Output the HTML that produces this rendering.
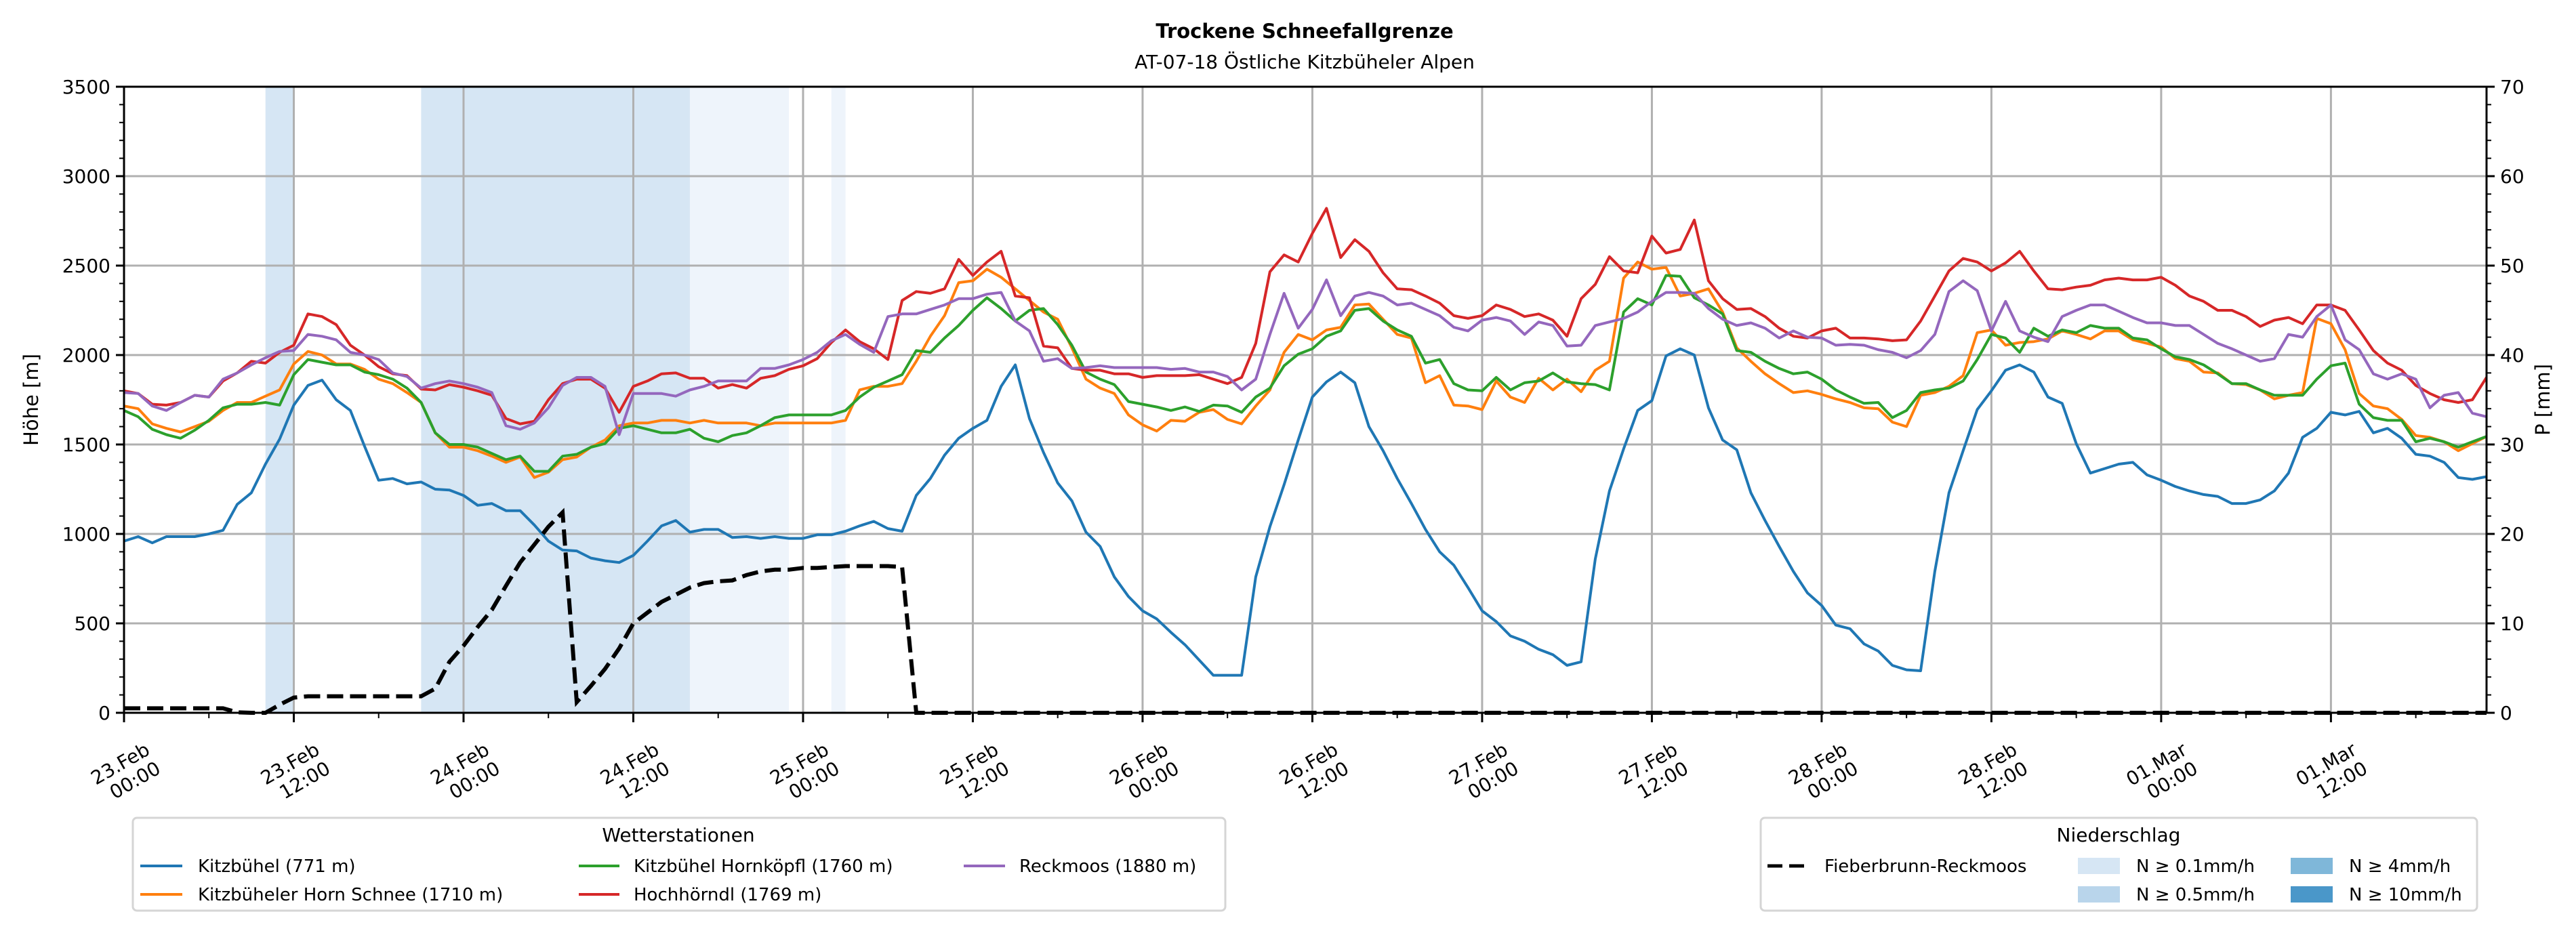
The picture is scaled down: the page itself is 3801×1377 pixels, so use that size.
<!DOCTYPE html>
<html><head><meta charset="utf-8"><style>
html,body{margin:0;padding:0;background:#fff;}
svg{display:block;font-family:"DejaVu Sans","Liberation Sans",sans-serif;}
</style></head><body>
<svg id="chart" width="3801" height="1377" viewBox="0 0 3801 1377" xmlns="http://www.w3.org/2000/svg">
<defs><clipPath id="plotclip"><rect x="183" y="120" width="3486" height="940"/></clipPath></defs>
<rect x="0" y="0" width="3801" height="1377" fill="#fff"/>
<text x="1925" y="56" text-anchor="middle" font-size="29" font-weight="bold">Trockene Schneefallgrenze</text>
<text x="1925" y="101" text-anchor="middle" font-size="28">AT-07-18 Östliche Kitzbüheler Alpen</text>
<g id="shade"></g>
<g id="grid"></g>
<g id="series" clip-path="url(#plotclip)"></g>
<g id="axes"></g>
<text transform="translate(56,590) rotate(-90)" text-anchor="middle" font-size="29">Höhe [m]</text>
<text transform="translate(3762,590) rotate(-90)" text-anchor="middle" font-size="29">P [mm]</text>
<g>
<rect x="196" y="1207" width="1612" height="137" rx="6" fill="#fff" stroke="#d5d5d5" stroke-width="3"/>
<text x="1001" y="1242" text-anchor="middle" font-size="28">Wetterstationen</text>
<line x1="207" y1="1278" x2="269" y2="1278" stroke="#1f77b4" stroke-width="4"/>
<text x="292" y="1287" font-size="26">Kitzbühel (771 m)</text>
<line x1="207" y1="1320" x2="269" y2="1320" stroke="#ff7f0e" stroke-width="4"/>
<text x="292" y="1329" font-size="26">Kitzbüheler Horn Schnee (1710 m)</text>
<line x1="854" y1="1278" x2="914" y2="1278" stroke="#2ca02c" stroke-width="4"/>
<text x="935" y="1287" font-size="26">Kitzbühel Hornköpfl (1760 m)</text>
<line x1="854" y1="1320" x2="914" y2="1320" stroke="#d62728" stroke-width="4"/>
<text x="935" y="1329" font-size="26">Hochhörndl (1769 m)</text>
<line x1="1422" y1="1278" x2="1483" y2="1278" stroke="#9467bd" stroke-width="4"/>
<text x="1504" y="1287" font-size="26">Reckmoos (1880 m)</text>
</g>
<g>
<rect x="2598" y="1207" width="1057" height="137" rx="6" fill="#fff" stroke="#d5d5d5" stroke-width="3"/>
<text x="3126" y="1242" text-anchor="middle" font-size="28">Niederschlag</text>
<line x1="2608" y1="1278" x2="2666" y2="1278" stroke="#000" stroke-width="5" stroke-dasharray="22,10"/>
<text x="2692" y="1287" font-size="26">Fieberbrunn-Reckmoos</text>
<rect x="3066" y="1266" width="62" height="24" fill="#d6e6f4"/>
<text x="3152" y="1287" font-size="26">N ≥ 0.1mm/h</text>
<rect x="3066" y="1308" width="62" height="24" fill="#b9d5eb"/>
<text x="3152" y="1329" font-size="26">N ≥ 0.5mm/h</text>
<rect x="3380" y="1266" width="62" height="24" fill="#7fb7d9"/>
<text x="3466" y="1287" font-size="26">N ≥ 4mm/h</text>
<rect x="3380" y="1308" width="62" height="24" fill="#4a97c9"/>
<text x="3466" y="1329" font-size="26">N ≥ 10mm/h</text>
</g>
</svg>
<script>
const yTicks=[0,500,1000,1500,2000,2500,3000,3500];
const y2Ticks=[0,10,20,30,40,50,60,70];
const xTickHours=[0,12,24,36,48,60,72,84,96,108,120,132,144,156];
const xTickLabels=[["23.Feb","00:00"],["23.Feb","12:00"],["24.Feb","00:00"],["24.Feb","12:00"],["25.Feb","00:00"],["25.Feb","12:00"],["26.Feb","00:00"],["26.Feb","12:00"],["27.Feb","00:00"],["27.Feb","12:00"],["28.Feb","00:00"],["28.Feb","12:00"],["01.Mar","00:00"],["01.Mar","12:00"]];
const shadeStart=[10,21,40,50];
const shadeEnd=[12,40,47,51];
const shadeLevel=[1,1,0,0];
const kitzbuehel=[960,985,950,985,985,985,1000,1020,1165,1230,1390,1530,1720,1830,1860,1750,1690,1490,1300,1310,1280,1290,1250,1245,1215,1160,1170,1130,1130,1050,960,910,905,865,850,840,880,960,1045,1075,1010,1025,1025,980,985,975,985,975,975,995,995,1015,1045,1070,1030,1015,1215,1310,1440,1535,1590,1635,1825,1945,1645,1455,1285,1185,1010,930,760,650,570,525,450,380,295,210,210,210,760,1040,1275,1525,1765,1850,1905,1845,1600,1465,1310,1170,1025,900,825,700,570,510,430,400,355,325,265,285,860,1240,1475,1690,1745,1995,2035,2000,1705,1525,1470,1230,1075,930,790,670,600,490,470,385,345,265,240,235,790,1230,1465,1695,1800,1915,1945,1905,1765,1730,1505,1340,1365,1390,1400,1330,1300,1265,1240,1220,1210,1170,1170,1190,1240,1340,1540,1590,1680,1665,1685,1565,1590,1535,1445,1435,1400,1315,1305,1320];
const hornSchnee=[1715,1700,1615,1590,1570,1600,1630,1690,1735,1735,1770,1805,1950,2020,2000,1950,1950,1920,1865,1840,1790,1735,1565,1485,1485,1465,1435,1400,1430,1315,1345,1415,1430,1485,1525,1605,1620,1620,1635,1635,1620,1635,1620,1620,1620,1605,1620,1620,1620,1620,1620,1635,1805,1825,1825,1840,1965,2105,2220,2405,2415,2480,2435,2370,2305,2240,2200,2040,1865,1815,1785,1665,1610,1575,1635,1630,1680,1695,1640,1615,1715,1805,2015,2115,2085,2140,2155,2280,2285,2200,2115,2095,1845,1885,1720,1715,1695,1855,1765,1735,1870,1805,1865,1795,1915,1965,2430,2520,2480,2490,2330,2345,2370,2240,2040,1965,1895,1840,1790,1800,1780,1755,1735,1705,1700,1625,1600,1775,1790,1825,1885,2125,2140,2055,2070,2075,2090,2135,2115,2090,2135,2135,2085,2065,2045,1980,1965,1905,1900,1840,1835,1805,1755,1775,1790,2205,2175,2030,1785,1715,1700,1640,1550,1540,1515,1465,1505,1545];
const hornkoepfl=[1690,1655,1585,1555,1535,1580,1635,1705,1725,1725,1735,1720,1890,1975,1960,1945,1945,1905,1890,1865,1815,1735,1565,1500,1500,1485,1450,1415,1435,1350,1350,1435,1445,1485,1505,1590,1605,1585,1565,1565,1585,1535,1515,1550,1565,1605,1650,1665,1665,1665,1665,1690,1765,1820,1855,1890,2025,2015,2095,2165,2250,2320,2260,2190,2250,2260,2170,2055,1905,1865,1835,1740,1725,1710,1690,1710,1685,1720,1715,1680,1765,1815,1940,2005,2035,2105,2135,2250,2260,2190,2140,2105,1955,1975,1840,1805,1800,1875,1805,1845,1855,1900,1850,1840,1835,1805,2240,2315,2280,2445,2440,2320,2280,2230,2025,2015,1965,1925,1895,1905,1865,1805,1765,1730,1735,1650,1690,1790,1805,1815,1855,1975,2115,2095,2015,2150,2105,2140,2125,2165,2150,2150,2095,2085,2035,1990,1975,1945,1895,1840,1840,1805,1775,1775,1775,1865,1940,1955,1725,1650,1635,1635,1515,1535,1515,1485,1515,1545];
const hochhoerndl=[1800,1785,1725,1720,1735,1775,1765,1855,1900,1965,1955,2015,2055,2230,2215,2170,2055,2000,1935,1895,1885,1810,1805,1835,1820,1800,1775,1645,1615,1630,1750,1840,1865,1865,1815,1680,1825,1855,1895,1900,1870,1870,1815,1835,1815,1870,1885,1920,1940,1980,2070,2140,2075,2035,1975,2305,2355,2345,2370,2535,2445,2520,2580,2330,2320,2050,2040,1925,1915,1915,1895,1895,1875,1885,1885,1885,1890,1865,1840,1875,2065,2465,2560,2520,2680,2820,2545,2645,2580,2460,2370,2365,2330,2290,2220,2205,2220,2280,2255,2215,2230,2195,2105,2315,2395,2550,2470,2460,2665,2570,2590,2755,2415,2315,2255,2260,2215,2150,2105,2095,2135,2150,2095,2095,2090,2080,2085,2190,2330,2470,2540,2520,2470,2515,2580,2470,2370,2365,2380,2390,2420,2430,2420,2420,2435,2390,2330,2300,2250,2250,2215,2160,2195,2210,2175,2280,2280,2250,2140,2025,1955,1915,1830,1785,1750,1735,1750,1875];
const reckmoos=[1790,1785,1715,1690,1735,1775,1765,1865,1900,1945,1985,2020,2025,2115,2105,2085,2015,2000,1975,1900,1880,1815,1840,1855,1840,1820,1790,1605,1585,1620,1705,1830,1875,1875,1825,1555,1785,1785,1785,1770,1805,1825,1855,1855,1855,1925,1925,1945,1975,2015,2080,2115,2060,2015,2215,2230,2230,2255,2280,2315,2315,2340,2350,2190,2135,1965,1980,1925,1930,1940,1930,1930,1930,1930,1920,1925,1905,1905,1880,1805,1865,2115,2345,2150,2255,2420,2220,2330,2350,2330,2280,2290,2255,2220,2155,2135,2195,2210,2190,2115,2185,2165,2050,2055,2165,2185,2205,2240,2300,2350,2350,2345,2260,2200,2165,2180,2150,2095,2135,2100,2095,2055,2060,2055,2030,2015,1985,2025,2115,2355,2415,2360,2135,2300,2135,2100,2075,2215,2250,2280,2280,2245,2210,2180,2180,2165,2165,2115,2065,2035,2000,1965,1980,2115,2100,2215,2280,2085,2030,1895,1865,1895,1865,1705,1775,1790,1675,1655];
const fieberbrunnMm=[0.5,0.5,0.5,0.5,0.5,0.5,0.5,0.5,0.05,0,
0,0.9,1.7,1.85,1.85,1.85,1.85,1.85,1.85,1.85,
1.85,1.85,2.7,5.7,7.5,9.6,11.5,14.2,16.8,18.8,
20.8,22.4,1.2,3.0,4.9,7.2,10.0,11.2,12.4,13.2,
14.0,14.5,14.7,14.8,15.4,15.8,16.0,16.0,16.2,16.2,
16.3,16.4,16.4,16.4,16.4,16.3,
0,0,0,0,0,0,0,0,0,0,
0,0,0,0,0,0,0,0,0,0,
0,0,0,0,0,0,0,0,0,0,
0,0,0,0,0,0,0,0,0,0,
0,0,0,0,0,0,0,0,0,0,
0,0,0,0,0,0,0,0,0,0,
0,0,0,0,0,0,0,0,0,0,
0,0,0,0,0,0,0,0,0,0,
0,0,0,0,0,0,0,0,0,0,
0,0,0,0,0,0,0,0,0,0,
0,0,0,0,0,0,0,0,0,0,
0,0];

const NS="http://www.w3.org/2000/svg";
const L=183,R=3669,T=128,B=1052;
const X0=0,X1=167;
function xs(h){return L+(h-X0)/(X1-X0)*(R-L);}
function ys(v){return B-v/3500*(B-T);}
function ys2(v){return B-v/70*(B-T);}
function mk(tag,attrs,parent){const e=document.createElementNS(NS,tag);for(const k in attrs)e.setAttribute(k,attrs[k]);parent.appendChild(e);return e;}
const shade=document.getElementById('shade'),grid=document.getElementById('grid'),series=document.getElementById('series'),axes=document.getElementById('axes');
const shadeColors=['#eef4fb','#d6e6f4'];
for(let i=0;i<shadeStart.length;i++){
  const r=mk('rect',{x:xs(shadeStart[i]),y:T,width:xs(shadeEnd[i])-xs(shadeStart[i]),height:B-T,fill:shadeColors[shadeLevel[i]]},shade);
  
  
}
yTicks.forEach(v=>{
  const g=mk('line',{x1:L,x2:R,y1:ys(v),y2:ys(v),stroke:'#b0b0b0','stroke-width':3},grid);
  
  
});
xTickHours.forEach(h=>{
  const g=mk('line',{x1:xs(h),x2:xs(h),y1:T,y2:B,stroke:'#b0b0b0','stroke-width':3},grid);
  
  
});
const defs=[[kitzbuehel,'#1f77b4','line-kitzbuehel'],[hornSchnee,'#ff7f0e','line-horn-schnee'],[hornkoepfl,'#2ca02c','line-hornkoepfl'],[hochhoerndl,'#d62728','line-hochhoerndl'],[reckmoos,'#9467bd','line-reckmoos']];
defs.forEach(d=>{
  const pts=d[0].map((v,i)=>xs(i).toFixed(1)+','+ys(v).toFixed(1)).join(' ');
  const p=mk('polyline',{points:pts,fill:'none',stroke:d[1],'stroke-width':4,'stroke-linejoin':'round'},series);
  
  
});
{
  const pts=fieberbrunnMm.map((v,i)=>xs(i).toFixed(1)+','+ys2(v).toFixed(1)).join(' ');
  const p=mk('polyline',{points:pts,fill:'none',stroke:'#000','stroke-width':6,'stroke-dasharray':'24,10'},series);
  
  
}
const frame=mk('rect',{x:L,y:T,width:R-L,height:B-T,fill:'none',stroke:'#000','stroke-width':3},axes);


for(let v=0;v<=3500;v+=100){
  const major=v%500===0;
  const t=mk('line',{x1:L,x2:L-(major?12:7),y1:ys(v),y2:ys(v),stroke:'#000','stroke-width':major?3:2},axes);
  
  
}
yTicks.forEach(v=>{
  const t=mk('text',{x:L-20,y:ys(v)+10,'text-anchor':'end','font-size':28},axes);
  t.textContent=v;
  
  
});
for(let v=0;v<=70;v+=2){
  const major=v%10===0;
  const t=mk('line',{x1:R,x2:R+(major?12:7),y1:ys2(v),y2:ys2(v),stroke:'#000','stroke-width':major?3:2},axes);
  
  
}
y2Ticks.forEach(v=>{
  const t=mk('text',{x:R+20,y:ys2(v)+10,'text-anchor':'start','font-size':28},axes);
  t.textContent=v;
  
  
});
for(let h=0;h<=X1;h+=6){
  const major=h%12===0;
  const t=mk('line',{x1:xs(h),x2:xs(h),y1:B,y2:B+(major?14:8),stroke:'#000','stroke-width':major?3:2},axes);
  
  
}
xTickHours.forEach((h,i)=>{
  const g=mk('g',{transform:'translate('+(xs(h)+40)+',1112) rotate(-30)'},axes);
  
  
  const a=mk('text',{x:0,y:0,'text-anchor':'end','font-size':28},g);
  a.textContent=xTickLabels[i][0];
  const b=mk('text',{x:0,y:32,'text-anchor':'end','font-size':28},g);
  b.textContent=xTickLabels[i][1];
});
</script>
</body></html>
